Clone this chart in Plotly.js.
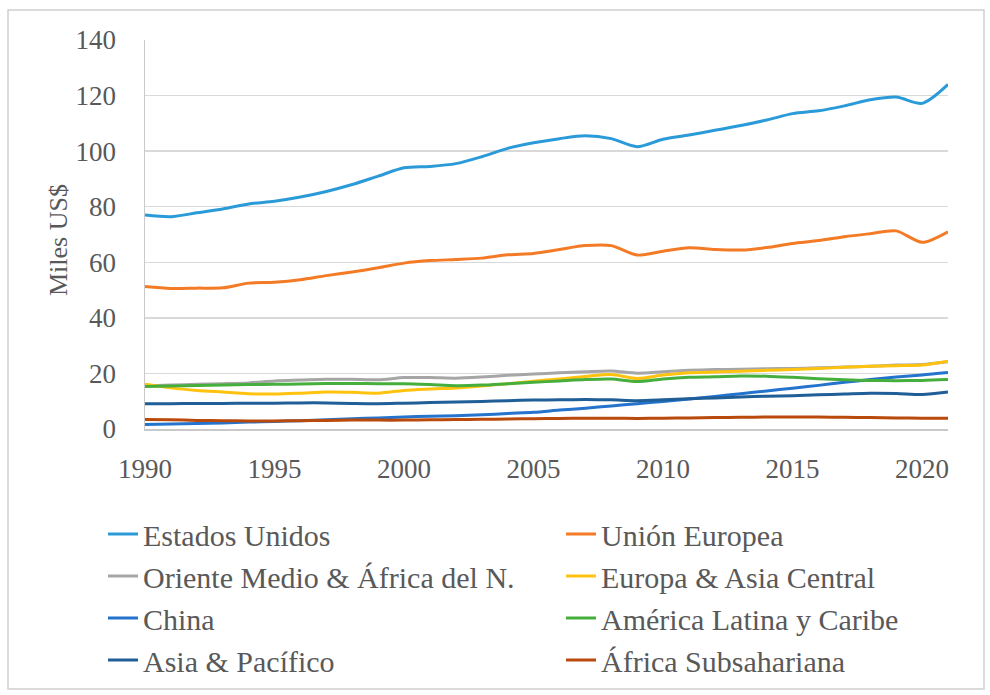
<!DOCTYPE html>
<html>
<head>
<meta charset="utf-8">
<script src="https://cdn.plot.ly/plotly-3.0.1.min.js"></script>
<style>html,body{margin:0;padding:0;background:#fff;}#chart{width:990px;height:695px;}</style>
</head>
<body>
<div id="chart"></div>
<script>
var years = [1990,1991,1992,1993,1994,1995,1996,1997,1998,1999,2000,2001,2002,2003,2004,2005,2006,2007,2008,2009,2010,2011,2012,2013,2014,2015,2016,2017,2018,2019,2020,2021];

var estadosUnidos = [77,76.4,77.8,79.2,81,82,83.5,85.5,88,91,94,94.5,95.5,98,101,103,104.5,105.5,104.5,101.6,104.3,105.8,107.5,109.2,111.2,113.5,114.5,116.3,118.5,119.5,117.2,124];
var unionEuropea = [51.3,50.6,50.7,50.8,52.5,52.8,53.7,55.2,56.5,58,59.7,60.6,61,61.5,62.7,63.2,64.6,66,66,62.6,64,65.2,64.6,64.4,65.3,66.8,67.8,69.2,70.3,71.3,67.2,71];
var orienteMedio = [15.5,15.8,16.1,16.3,16.6,17.3,17.6,17.9,17.9,17.7,18.5,18.5,18.3,18.7,19.3,19.8,20.2,20.6,20.9,20.1,20.6,21.1,21.4,21.5,21.7,21.8,22,22.3,22.6,23,23.2,24.2];
var europaAsiaCentral = [16.1,14.8,13.9,13.3,12.7,12.6,12.9,13.3,13.2,12.9,13.9,14.4,14.8,15.5,16.3,17.2,18,18.9,19.6,18.2,19.4,20.2,20.5,20.8,21.1,21.4,21.8,22.2,22.6,22.8,23,24.4];
var china = [1.6,1.8,2.0,2.2,2.5,2.7,3.0,3.3,3.7,4.0,4.3,4.6,4.8,5.1,5.6,6.0,6.8,7.5,8.3,9.1,9.9,10.8,11.7,12.7,13.7,14.7,15.7,16.8,17.8,18.7,19.4,20.3];
var americaLatina = [15.3,15.5,15.7,15.8,16,16.1,16.2,16.4,16.4,16.3,16.3,16,15.6,15.8,16.3,16.8,17.3,17.8,18,17.1,18,18.6,18.8,19.1,19,18.6,18.1,17.7,17.5,17.4,17.5,17.8];
var asiaPacifico = [9.1,9.1,9.2,9.2,9.3,9.3,9.4,9.4,9.2,9.1,9.3,9.5,9.7,9.9,10.2,10.4,10.5,10.6,10.5,10.2,10.5,10.9,11.2,11.5,11.8,12.0,12.3,12.6,12.9,12.8,12.4,13.3];
var africaSubsahariana = [3.4,3.3,3.1,3.0,2.9,2.9,3.0,3.1,3.2,3.2,3.2,3.3,3.4,3.5,3.6,3.7,3.8,3.9,3.9,3.8,3.9,4.0,4.1,4.2,4.3,4.3,4.3,4.2,4.1,4.0,3.9,3.9];

var seriesNames = ["Estados Unidos","Unión Europea","Oriente Medio & África del N.","Europa & Asia Central","China","América Latina y Caribe","Asia & Pacífico","África Subsahariana"];
var seriesValues = [estadosUnidos, unionEuropea, orienteMedio, europaAsiaCentral, china, americaLatina, asiaPacifico, africaSubsahariana];
var seriesColors = ["#2A9AD8","#F47B25","#A6A6A6","#FFC20E","#2473CC","#45AE3C","#1F5E96","#BA4A0C"];
var legendOf = ["legend","legend2","legend","legend2","legend","legend2","legend","legend2"];
var yTitle = "Miles US$";

var fontFam = "Liberation Serif, serif";
var txtColor = "#595959";

var traces = [];
for (var i = 0; i < seriesNames.length; i++) {
  traces.push({
    x: years, y: seriesValues[i], name: seriesNames[i], type: "scatter", mode: "lines",
    line: {color: seriesColors[i], width: 3, shape: "spline", smoothing: 0.8},
    legend: legendOf[i], hoverinfo: "skip"
  });
}

var legendBase = {
  orientation: "v", xref: "container", yref: "container", xanchor: "left", yanchor: "top",
  font: {family: fontFam, size: 30, color: txtColor}, bgcolor: "rgba(0,0,0,0)",
  itemwidth: 30, traceorder: "normal", tracegroupgap: 0
};
var leg1 = Object.assign({}, legendBase, {x: 103/990, y: 1 - 508/695});
var leg2 = Object.assign({}, legendBase, {x: 561/990, y: 1 - 508/695});

var layout = {
  width: 990, height: 695,
  margin: {l: 145, r: 42, t: 40, b: 266, autoexpand: false},
  paper_bgcolor: "#ffffff", plot_bgcolor: "#ffffff",
  font: {family: fontFam, color: txtColor},
  showlegend: true,
  legend: leg1, legend2: leg2,
  xaxis: {
    range: [1990, 2021], tickvals: [1990,1995,2000,2005,2010,2015,2020],
    showgrid: false, zeroline: false, showline: true, linecolor: "#c9c9c9", linewidth: 1.5,
    ticks: "outside", ticklen: 15, tickcolor: "rgba(0,0,0,0)",
    tickfont: {family: fontFam, size: 27, color: txtColor}, fixedrange: true
  },
  yaxis: {
    range: [0, 140], tickvals: [0,20,40,60,80,100,120,140],
    showgrid: true, gridcolor: "#d9d9d9", gridwidth: 1.5, zeroline: false,
    showline: true, linecolor: "#c9c9c9", linewidth: 1.5,
    ticks: "outside", ticklen: 22, tickcolor: "rgba(0,0,0,0)",
    tickfont: {family: fontFam, size: 27, color: txtColor},
    fixedrange: true
  },
  annotations: [{
    text: yTitle, xref: "paper", yref: "paper", x: (58 - 145) / 803, y: (429 - 240) / 389,
    xanchor: "center", yanchor: "middle", textangle: -90, showarrow: false,
    font: {family: fontFam, size: 26, color: txtColor}
  }],
  shapes: [{
    type: "rect", xref: "paper", yref: "paper",
    x0: (8 - 145) / 803, x1: (984 - 145) / 803,
    y0: (429 - 689) / 389, y1: (429 - 10) / 389,
    line: {color: "#d0d0d0", width: 1.5}, fillcolor: "rgba(0,0,0,0)", layer: "below"
  }]
};

Plotly.newPlot("chart", traces, layout, {displayModeBar: false, staticPlot: true});
</script>
</body>
</html>
